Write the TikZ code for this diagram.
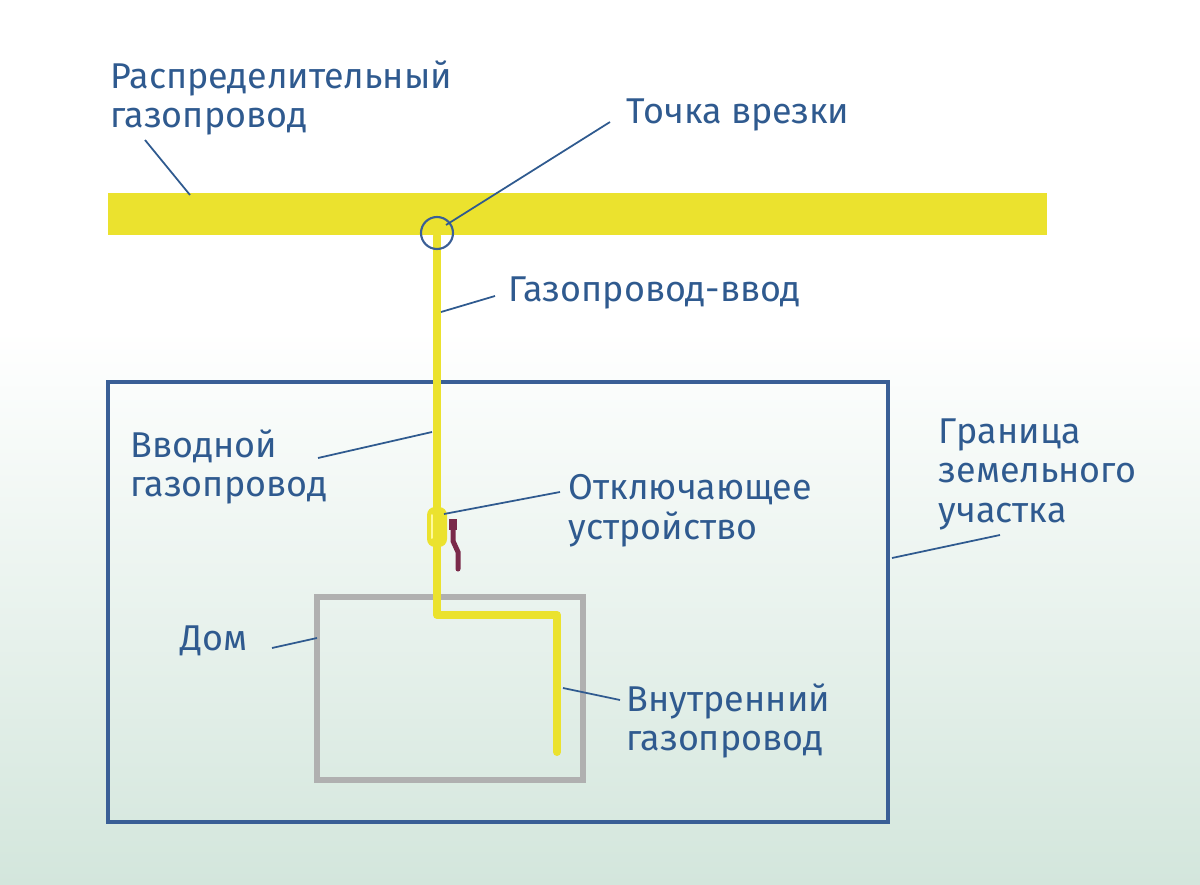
\documentclass[tikz,border=0pt]{standalone}
\usepackage{fontspec}
\setmainfont{Fira Sans}
\usetikzlibrary{positioning}
\definecolor{pipeyellow}{HTML}{EBE22E}
\definecolor{labelblue}{HTML}{2F5A8F}
\definecolor{plotblue}{HTML}{3A5F96}
\definecolor{housegray}{HTML}{B0B0B0}
\definecolor{bggreen}{HTML}{D3E6DC}
\definecolor{handlered}{HTML}{7A2A4A}
\tikzset{
  label text/.style={text=labelblue, font=\fontsize{10.2pt}{11.2pt}\selectfont, align=left, anchor=north west, inner sep=0pt},
  leader/.style={draw=labelblue, line width=0.5pt},
  pipe/.style={draw=pipeyellow, line width=0.08cm, line join=round, line cap=round},
}
\begin{document}
\begin{tikzpicture}[x=0.01cm, y=-0.01cm]

  % background
  \useasboundingbox (0,0) rectangle (1200,885);
  \fill [white] (0,0) rectangle (1200,331);
  \shade [top color=white, bottom color=bggreen] (0,330) rectangle (1200,885);

  % distribution main
  \fill [pipeyellow] (108,193) rectangle (1047,235);

  % land plot and house
  \draw [plotblue, line width=0.04cm] (108,382) rectangle (888,822);
  \draw [housegray, line width=0.06cm] (317,597) rectangle (583,780);

  % service pipe
  \draw [pipe] (437,236) -- (437,615) -- (557,615) -- (557,752);
  \coordinate (tap) at (437,233);
  \draw [plotblue, line width=0.6pt] (tap) circle (16);

  % shut-off device
  \fill [pipeyellow, rounded corners=0.08cm] (427,507) rectangle (447,547);
  \draw [yellow!40!white, line width=0.02cm, line cap=round] (432,515) -- (432,538);
  \fill [handlered] (449,519) rectangle (457,530);
  \draw [handlered, line width=0.05cm, line cap=round] (453,529) -- (453,541) -- (458,552) -- (458,569);

  % labels
  \node [label text] (main) at (110,60) {Распределительный\\газопровод};
  \node [label text] (tapl) at (626,98) {Точка врезки};
  \node [label text] (inlet) at (508,276) {Газопровод-ввод};
  \node [label text] (entry) at (130,429) {Вводной\\газопровод};
  \node [label text] (valve) at (568,474) {Отключающее\\устройство};
  \node [label text] (border) at (938,418) {Граница\\земельного\\участка};
  \node [label text] (house) at (180,625) {Дом};
  \node [label text] (inner) at (626,683) {Внутренний\\газопровод};

  % leaders
  \coordinate (a1) at (145,140); \coordinate (a2) at (190,195);
  \draw [leader] (a1) -- (a2);
  \coordinate (b1) at (610,122); \coordinate (b2) at (446,225);
  \draw [leader] (b1) -- (b2);
  \coordinate (c1) at (495,296); \coordinate (c2) at (441,312);
  \draw [leader] (c1) -- (c2);
  \coordinate (d1) at (318,458); \coordinate (d2) at (432,432);
  \draw [leader] (d1) -- (d2);
  \coordinate (e1) at (560,492); \coordinate (e2) at (444,514);
  \draw [leader] (e1) -- (e2);
  \coordinate (f1) at (1000,535); \coordinate (f2) at (892,558);
  \draw [leader] (f1) -- (f2);
  \coordinate (g1) at (272,648); \coordinate (g2) at (317,638);
  \draw [leader] (g1) -- (g2);
  \coordinate (h1) at (563,688); \coordinate (h2) at (620,700);
  \draw [leader] (h1) -- (h2);

\end{tikzpicture}
\end{document}
